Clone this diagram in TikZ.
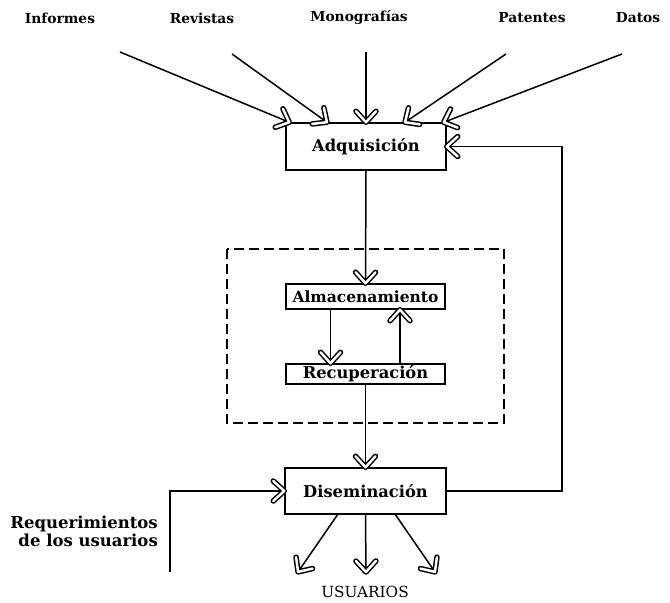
\documentclass[tikz,border=0pt]{standalone}
\usepackage{fontspec}
\setmainfont{DejaVu Serif}
\usetikzlibrary{decorations.markings}
\tikzset{
  chev/.style={postaction={decorate,decoration={markings,
    mark=at position 1 with {\draw[double=white,double distance=2.5pt,line width=1.5pt,
      line cap=round,line join=round] (-11pt,10pt) -- (0,0) -- (-11pt,-10pt);}}}},
  link/.style={line width=1.5pt},
  box/.style={draw,line width=1.5pt,rectangle,inner sep=0pt,
    font=\fontsize{16.3}{18}\selectfont\bfseries},
  lbl/.style={inner sep=0pt,font=\fontsize{13.8}{16}\selectfont\bfseries},
}
\begin{document}
\begin{tikzpicture}[x=1pt,y=-1pt]
\useasboundingbox (0,0) rectangle (670,603);

% source labels
\node[lbl] (inf) at (60,18) {Informes};
\node[lbl] (rev) at (202,18) {Revistas};
\node[lbl] (mon) at (359,18) {Monografías};
\node[lbl] (pat) at (532,18) {Patentes};
\node[lbl] (dat) at (638,18) {Datos};

% processing boxes
\node[box,minimum width=160pt,minimum height=47pt] (adq) at (366,146.5) {Adquisición};
\node[box,minimum width=159pt,minimum height=25pt,
  font=\fontsize{15.5}{17}\selectfont\bfseries] (alm) at (365.5,296.5) {Almacenamiento};
\node[box,minimum width=159pt,minimum height=20pt] (rec) at (365.5,374) {Recuperación};
\node[box,minimum width=161pt,minimum height=46pt] (dis) at (365.5,491) {Diseminación};

% storage / retrieval group
\draw[line width=1.7pt,dash pattern=on 10pt off 5pt] (227,249) rectangle (504,423);

% inputs to acquisition
\coordinate (sInf) at (120,52);
\coordinate (sRev) at (232,54);
\coordinate (sMon) at (366,52);
\coordinate (sPat) at (506,54);
\coordinate (sDat) at (622,54);
\draw[link,chev] (sInf) -- ([xshift=4pt]adq.north west);
\draw[link,chev] (sRev) -- ([xshift=-39pt]adq.north);
\draw[link,chev] (sMon) -- (adq.north);
\draw[link,chev] (sPat) -- ([xshift=39pt]adq.north);
\draw[link,chev] (sDat) -- ([xshift=-3pt]adq.north east);

% main flow
\draw[link,chev] (adq.south) -- (alm.north);
\draw[link,chev] ([xshift=-35pt]alm.south) -- ([xshift=-35pt]rec.north);
\draw[link,chev] ([xshift=34.5pt]rec.north) -- ([xshift=34.5pt]alm.south);
\draw[link,chev] (rec.south) -- (dis.north);

% feedback loop to acquisition
\coordinate (fbB) at (562,491);
\coordinate (fbT) at (562,146.5);
\draw[link,chev] (dis.east) -- (fbB) -- (fbT) -- (adq.east);

% user requirements
\node[lbl,align=right,anchor=east,font=\fontsize{16.5}{18}\selectfont\bfseries] (req) at (158,531)
  {Requerimientos\\de los usuarios};
\coordinate (rq0) at (170,572);
\coordinate (rq1) at (170,491);
\draw[link,chev] (rq0) -- (rq1) -- (dis.west);

% outputs to users
\coordinate (u1) at (298,572);
\coordinate (u2) at (366,572);
\coordinate (u3) at (435,572);
\draw[link,chev] ([xshift=-28pt]dis.south) -- (u1);
\draw[link,chev] (dis.south) -- (u2);
\draw[link,chev] ([xshift=30pt]dis.south) -- (u3);
\node[inner sep=0pt,font=\fontsize{15.3}{17}\selectfont] (usr) at (365,592) {USUARIOS};
\end{tikzpicture}
\end{document}
